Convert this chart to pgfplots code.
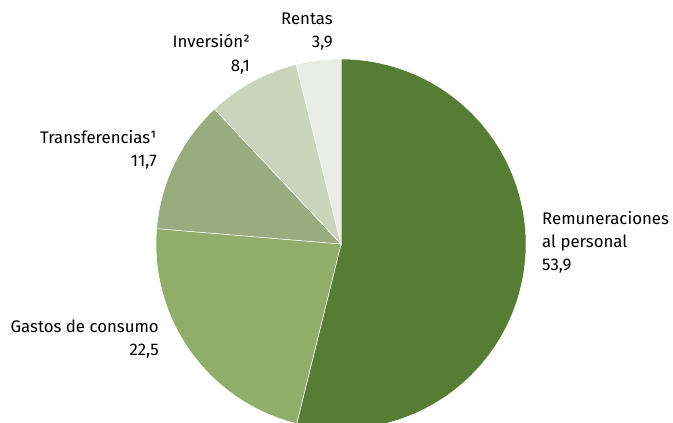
\documentclass[border=0pt]{standalone}
\usepackage{pgfplots}
\pgfplotsset{compat=1.18}
\usepackage{fontspec}
\setmainfont{Fira Sans}
\definecolor{c1}{HTML}{577C34}
\definecolor{c2}{HTML}{90AE6A}
\definecolor{c3}{HTML}{98AC7F}
\definecolor{c4}{HTML}{C9D4BA}
\definecolor{c5}{HTML}{E8ECE2}
% shares (%)
\def\vA{53.9}\def\vB{22.5}\def\vC{11.7}\def\vD{8.1}\def\vE{3.9}
\pgfmathsetmacro{\tot}{\vA+\vB+\vC+\vD+\vE}
\pgfmathsetmacro{\aA}{90}
\pgfmathsetmacro{\aB}{\aA-\vA/\tot*360}
\pgfmathsetmacro{\aC}{\aB-\vB/\tot*360}
\pgfmathsetmacro{\aD}{\aC-\vC/\tot*360}
\pgfmathsetmacro{\aE}{\aD-\vD/\tot*360}
\pgfmathsetmacro{\aF}{\aE-\vE/\tot*360}
\def\cx{341}\def\cy{179}\def\rr{185}
\begin{document}
\begin{tikzpicture}
\begin{axis}[
  name=pie,
  hide axis, scale only axis,
  width=673bp, height=423bp,
  xmin=0, xmax=673, ymin=0, ymax=423,
  clip=true,
]
\pgfplotsset{wedge/.style={draw=white, line width=0.5pt, samples=120, variable=\t}}
\addplot[wedge, fill=c1, domain=\aB:\aA] ({\cx+\rr*cos(\t)},{\cy+\rr*sin(\t)}) -- (axis cs:\cx,\cy) -- cycle;
\addplot[wedge, fill=c2, domain=\aC:\aB] ({\cx+\rr*cos(\t)},{\cy+\rr*sin(\t)}) -- (axis cs:\cx,\cy) -- cycle;
\addplot[wedge, fill=c3, domain=\aD:\aC] ({\cx+\rr*cos(\t)},{\cy+\rr*sin(\t)}) -- (axis cs:\cx,\cy) -- cycle;
\addplot[wedge, fill=c4, domain=\aE:\aD] ({\cx+\rr*cos(\t)},{\cy+\rr*sin(\t)}) -- (axis cs:\cx,\cy) -- cycle;
\addplot[wedge, fill=c5, domain=\aF:\aE] ({\cx+\rr*cos(\t)},{\cy+\rr*sin(\t)}) -- (axis cs:\cx,\cy) -- cycle;
\tikzset{lab/.style={inner sep=0pt, font=\fontsize{16.8bp}{20bp}\selectfont, text=black}}
\node[lab, anchor=mid east] at (axis cs:333,401) {Rentas};
\node[lab, anchor=mid east] at (axis cs:333,378) {3,9};
\node[lab, anchor=mid east] at (axis cs:250,378) {Inversión²};
\node[lab, anchor=mid east] at (axis cs:250,354) {8,1};
\node[lab, anchor=mid east] at (axis cs:157,282) {Transferencias¹};
\node[lab, anchor=mid east] at (axis cs:157,259) {11,7};
\node[lab, anchor=mid east] at (axis cs:159,93) {Gastos de consumo};
\node[lab, anchor=mid east] at (axis cs:159,70) {22,5};
\node[lab, anchor=mid west] at (axis cs:542,201) {Remuneraciones};
\node[lab, anchor=mid west] at (axis cs:542,178) {al personal};
\node[lab, anchor=mid west] at (axis cs:542,155) {53,9};
\end{axis}
\pgfresetboundingbox
\useasboundingbox (pie.south west) rectangle (pie.north east);
\end{tikzpicture}
\end{document}
